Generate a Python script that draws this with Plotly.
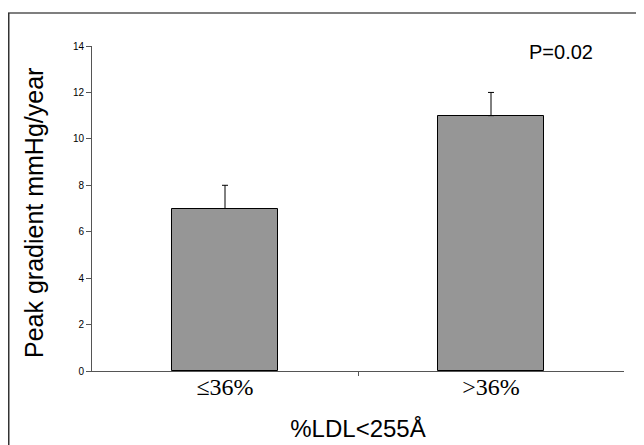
import plotly.graph_objects as go

categories = ["≤36%", "&gt;36%"]
values = [7, 11]
errors_up = [1, 1]
y_ticks = [0, 2, 4, 6, 8, 10, 12, 14]
p_text = "P=0.02"
x_title = "%LDL<255Å"
y_title = "Peak gradient mmHg/year"

xpos = list(range(len(categories)))

# page body has an 8px margin, so the figure is drawn 8px in from the window edge
W, H = 636, 437
L, R, T, B = 84, 20, 38, 74
pw, ph = W - L - R, H - T - B


def px_x(x):
    return (x - L) / pw


def px_y(y):
    return (H - B - y) / ph


fig = go.Figure()
fig.add_trace(go.Bar(
    x=xpos, y=values, width=0.4,
    marker=dict(color="#969696", line=dict(color="#000000", width=1)),
    error_y=dict(type="data", array=errors_up, symmetric=False,
                 arrayminus=[0] * len(values),
                 color="#000000", thickness=1, width=3),
    showlegend=False,
))

fig.update_layout(
    width=W, height=H,
    margin=dict(l=L, r=R, t=T, b=B, autoexpand=False),
    paper_bgcolor="white", plot_bgcolor="white",
    font=dict(family="Liberation Sans, Arial, sans-serif", color="#000000"),
    bargap=0,
    xaxis=dict(
        range=[-0.5, 1.5], tickvals=xpos, ticktext=categories,
        ticks="", showgrid=False, zeroline=False,
        showline=True, linecolor="#555555", linewidth=1,
        tickfont=dict(family="Liberation Serif, Times New Roman, serif", size=24),
        ticklabelstandoff=-6,
        minor=dict(tickvals=[0.5], ticks="outside", ticklen=4, tickcolor="#555555", showgrid=False),
        title=dict(text=x_title, font=dict(size=24), standoff=21),
        automargin=False, fixedrange=True,
    ),
    yaxis=dict(
        range=[0, 14], tickvals=y_ticks, ticks="outside", ticklen=5,
        tickcolor="#555555", showgrid=False, zeroline=False,
        showline=True, linecolor="#555555", linewidth=1,
        tickfont=dict(size=10),
        automargin=False, fixedrange=True,
    ),
    shapes=[
        dict(type="line", xref="paper", yref="paper",
             x0=px_x(0), x1=px_x(W + 10), y0=px_y(5), y1=px_y(5),
             line=dict(color="#555555", width=1.5)),
        dict(type="line", xref="paper", yref="paper",
             x0=px_x(0.5), x1=px_x(0.5), y0=px_y(5), y1=px_y(H + 10),
             line=dict(color="#333333", width=2)),
    ],
    annotations=[
        dict(text=p_text, xref="paper", yref="paper", x=px_x(553), y=px_y(44),
             showarrow=False, font=dict(size=20), xanchor="center", yanchor="middle"),
        dict(text=y_title, xref="paper", yref="paper", x=px_x(26), y=px_y(205),
             showarrow=False, textangle=-90, font=dict(size=25),
             xanchor="center", yanchor="middle"),
    ],
)

fig.write_html("out.html")
